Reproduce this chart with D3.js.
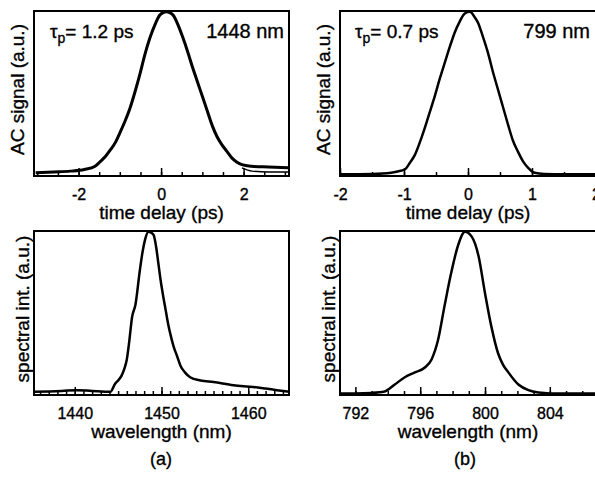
<!DOCTYPE html>
<html><head><meta charset="utf-8">
<script src="https://cdn.jsdelivr.net/npm/d3@7"></script>
<style>body{margin:0;background:#fff}svg{display:block}text{font-family:"Liberation Sans",Arial,sans-serif;fill:#000;stroke:#000;stroke-width:0.35px}</style>
</head><body><svg id="c" width="595" height="480"></svg>
<script>
// ---- data ----
const acA_t   = [-3.04,-2.6,-2.2,-1.86,-1.6,-1.47,-1.35,-1.23,-1.1,-0.99,-0.87,-0.75,-0.63,-0.51,-0.39,-0.27,-0.15,-0.03,0.05,0.13,0.21,0.29,0.41,0.53,0.65,0.76,0.88,1.0,1.12,1.24,1.36,1.48,1.6,1.72,1.84,1.96,2.2,2.6,3.08];
const acA_v   = [0.01,0.015,0.02,0.03,0.05,0.08,0.11,0.15,0.2,0.26,0.33,0.41,0.51,0.62,0.74,0.84,0.92,0.98,0.995,1.0,0.995,0.98,0.92,0.84,0.75,0.66,0.57,0.48,0.39,0.30,0.23,0.18,0.14,0.10,0.075,0.06,0.05,0.045,0.04];
const acA_fitT = [1.96,2.2,2.6,3.08];
const acA_fitV = [0.04,0.02,0.015,0.015];
const acB_t   = [-2.0,-1.5,-1.2,-1.1,-0.99,-0.91,-0.83,-0.75,-0.68,-0.6,-0.52,-0.44,-0.36,-0.28,-0.21,-0.13,-0.05,0.03,0.1,0.16,0.23,0.31,0.39,0.47,0.55,0.63,0.7,0.78,0.86,0.94,1.04,1.2,1.5,2.0];
const acB_v   = [0.0,0.002,0.01,0.018,0.03,0.07,0.12,0.2,0.28,0.38,0.48,0.59,0.69,0.79,0.87,0.94,0.99,1.0,0.97,0.93,0.85,0.75,0.63,0.52,0.41,0.30,0.21,0.14,0.08,0.04,0.01,0.003,0.0,0.0];
const spA_l   = [1435.3,1437,1438.5,1440.2,1442,1444.1,1444.65,1445.0,1445.4,1445.7,1446.0,1446.3,1446.6,1447.0,1447.5,1447.8,1448.1,1448.5,1448.8,1449.1,1449.4,1449.65,1449.9,1450.2,1450.5,1450.8,1451.1,1451.4,1451.8,1452.2,1452.7,1453.3,1454.5,1456,1458.3,1460.6,1462,1463.3,1464.7];
const spA_v   = [0.01,0.012,0.015,0.02,0.015,0.01,0.06,0.08,0.11,0.15,0.21,0.33,0.47,0.55,0.76,0.87,0.95,1.0,0.995,0.98,0.9,0.80,0.70,0.60,0.51,0.42,0.35,0.29,0.23,0.17,0.13,0.10,0.08,0.07,0.05,0.04,0.03,0.02,0.01];
const spB_l   = [791.05,792,792.99,793.8,794.43,795.05,795.67,796.29,796.7,797.1,797.5,797.9,798.35,798.76,799.18,799.6,800.0,800.4,800.8,801.1,801.44,802.06,802.68,803.3,804,805,806.85];
const spB_v   = [0.0,0.0,0.003,0.012,0.055,0.1,0.13,0.16,0.21,0.33,0.54,0.74,0.92,1.0,0.97,0.85,0.62,0.41,0.25,0.18,0.13,0.055,0.02,0.005,0.0,0.0,0.0];
const ticksA = [-2,0,2], ticksB = [-2,-1,0,1,2], ticksC = [1440,1450,1460], ticksD = [792,796,800,804];

const svg = d3.select("#c");
const F = "black";

function panel(o){
  const x = d3.scaleLinear().domain(o.xd).range(o.xr);
  const y = d3.scaleLinear().domain([-0.01,1.005]).range(o.yr);
  const g = svg.append("g");
  const ax = d3.axisBottom(x).tickValues(d3.range(o.minor[0],o.minor[1]+1e-9,o.minor[2])).tickSize(-4).tickFormat("");
  g.append("g").attr("transform",`translate(0,${o.yr[0]})`).call(ax).call(s=>{s.select(".domain").remove();s.selectAll("line").attr("stroke",F).attr("stroke-width",1.5);});
  const ax2 = d3.axisBottom(x).tickValues(o.major).tickSize(-8).tickPadding(13).tickFormat(d=>d3.format("")(d).replace("−","-"));
  g.append("g").attr("transform",`translate(0,${o.yr[0]})`).call(ax2).call(s=>{s.select(".domain").remove();s.selectAll("line").attr("stroke",F).attr("stroke-width",1.5);s.selectAll("text").attr("font-size",16).attr("font-family","Liberation Sans, Arial").attr("fill",F).attr("dy","0.71em");});
  g.append("rect").attr("x",o.xr[0]).attr("y",o.yr[1]).attr("width",o.xr[1]-o.xr[0]).attr("height",o.yr[0]-o.yr[1]).attr("fill","none").attr("stroke",F).attr("stroke-width",2);
  const line = d3.line().x(d=>x(d[0])).y(d=>y(d[1])).curve(d3.curveMonotoneX);
  o.series.forEach(s=>{
    g.append("path").datum(d3.zip(s.x,s.y)).attr("d",line).attr("fill","none").attr("stroke",F).attr("stroke-width",s.w).attr("stroke-linejoin","round");
  });
  g.append("text").attr("x",(o.xr[0]+o.xr[1])/2).attr("y",o.yr[0]+43).attr("text-anchor","middle").attr("font-size",19).text(o.xt);
  g.append("text").attr("transform",`translate(${o.ytx},${(o.yr[0]+o.yr[1])/2 - 4}) rotate(-90)`).attr("text-anchor","middle").attr("font-size",19).text(o.yt);
  return {x,y,g};
}

panel({xd:[-3.08,3.1],xr:[34,289],yr:[176,11],major:ticksA,minor:[-3,3,0.5],
  series:[{x:acA_t,y:acA_v,w:3},{x:acA_fitT,y:acA_fitV,w:1.5}],xt:"time delay (ps)",yt:"AC signal (a.u.)",ytx:24});
panel({xd:[-2,2],xr:[340,596],yr:[176,11],major:ticksB,minor:[-2,2,0.5],
  series:[{x:acB_t,y:acB_v,w:2.5}],xt:"time delay (ps)",yt:"AC signal (a.u.)",ytx:330});
panel({xd:[1435.3,1464.7],xr:[34,289],yr:[395,231],major:ticksC,minor:[1436,1464,1],
  series:[{x:spA_l,y:spA_v,w:2.5}],xt:"wavelength (nm)",yt:"spectral int. (a.u.)",ytx:29});
panel({xd:[791.05,806.85],xr:[340,596],yr:[395,231],major:ticksD,minor:[792,806,1],
  series:[{x:spB_l,y:spB_v,w:2.5}],xt:"wavelength (nm)",yt:"spectral int. (a.u.)",ytx:335});

function tau(x,y,val){
  const t = svg.append("text").attr("x",x).attr("y",y).attr("font-size",19);
  t.append("tspan").text("τ");
  t.append("tspan").attr("font-size",14).attr("dy",5).text("p");
  t.append("tspan").attr("dy",-5).text("= "+val+" ps");
}
tau(50,38,"1.2");
tau(355,38,"0.7");
svg.append("text").attr("x",284).attr("y",38).attr("text-anchor","end").attr("font-size",20).text("1448 nm");
svg.append("text").attr("x",590).attr("y",38).attr("text-anchor","end").attr("font-size",20).text("799 nm");
svg.append("text").attr("x",161).attr("y",465).attr("text-anchor","middle").attr("font-size",18).text("(a)");
svg.append("text").attr("x",465).attr("y",465).attr("text-anchor","middle").attr("font-size",18).text("(b)");
</script></body></html>
